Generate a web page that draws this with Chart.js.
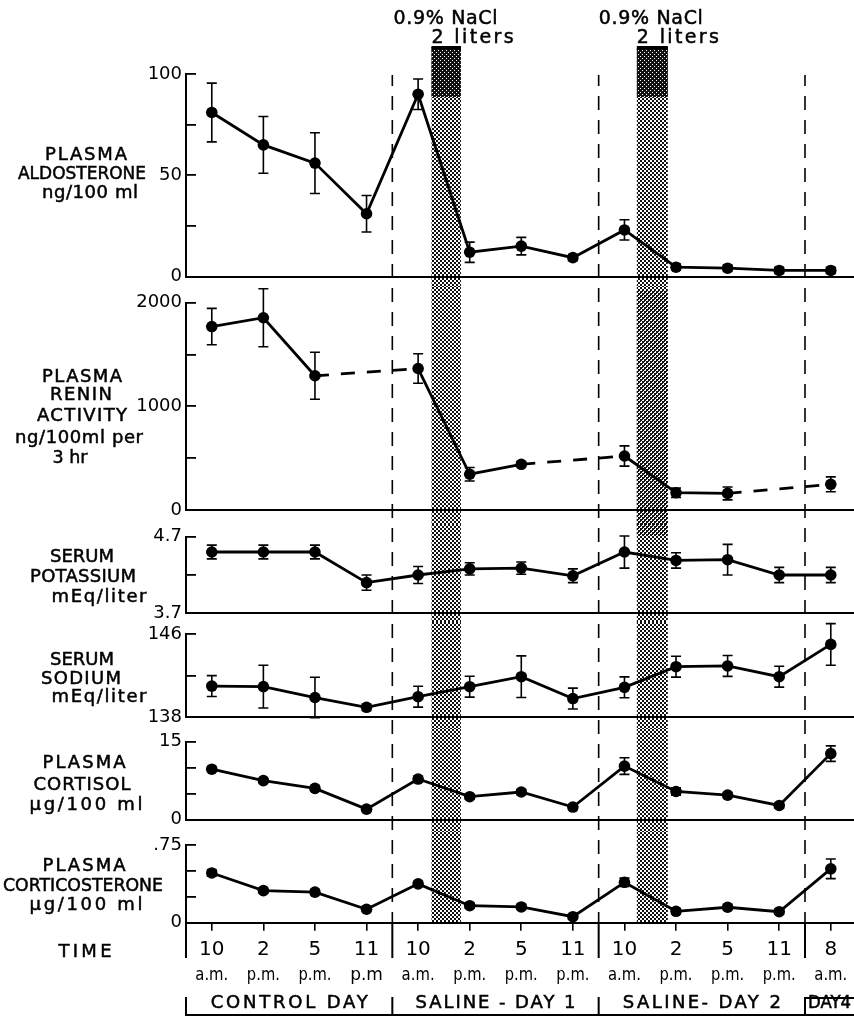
<!DOCTYPE html>
<html>
<head>
<meta charset="utf-8">
<script src="https://cdn.jsdelivr.net/npm/chart.js@4.4.0/dist/chart.umd.js"></script>
<style>
    html, body { margin: 0; padding: 0; background: #fff; }
    #wrap { position: relative; width: 854px; height: 1019px; overflow: hidden; }
    #wrap canvas { position: absolute; left: 0; }
</style>
</head>
<body>
<div id="wrap"></div>
<script>
// --- data ---
const timeHours = ['10', '2', '5', '11', '10', '2', '5', '11', '10', '2', '5', '11', '8'];
const timeAmPm = ['a.m.', 'p.m.', 'p.m.', 'p.m', 'a.m.', 'p.m.', 'p.m.', 'p.m.', 'a.m.', 'p.m.', 'p.m.', 'p.m.', 'a.m.'];
const dayNames = ['CONTROL DAY', 'SALINE - DAY 1', 'SALINE- DAY 2', 'DAY4'];
const dayBounds = [-0.5, 3.5, 7.5, 11.5, 12.45];
const infusionStart = [4.26, 8.24];
const infusionEnd = [4.83, 8.84];
const infusionText = ['0.9% NaCl', '2 liters'];

const aldosterone = [81, 65, 56, 31, 90, 12, 15, 9.3, 23, 4.6, 4.1, 3.0, 3.0];
const aldosteroneErr = [14.5, 14, 15, 9, 7.5, 5, 4.3, 1.5, 5, 1.5, 1.5, 1.5, 1.5];
const aldosteroneTicks = [0, 25, 50, 75, 100];
const aldosteroneTickText = ['0', '', '50', '', '100'];
const aldosteroneTitle = ['PLASMA', 'ALDOSTERONE', 'ng/100 ml'];

const renin = [1770, 1855, 1295, null, 1365, 345, 441, null, 521, 167, 160, null, 248];
const reninErr = [175, 280, 227, 0, 142, 65, 25, 0, 98, 45, 62, 0, 72];
const reninTicks = [0, 500, 1000, 1500, 2000];
const reninTickText = ['0', '', '1000', '', '2000'];
const reninTitle = ['PLASMA', 'RENIN', 'ACTIVITY', 'ng/100ml per', '3 hr'];

const potassium = [4.50, 4.50, 4.50, 4.10, 4.20, 4.28, 4.29, 4.19, 4.50, 4.39, 4.40, 4.20, 4.20];
const potassiumErr = [0.09, 0.09, 0.09, 0.10, 0.11, 0.08, 0.08, 0.09, 0.21, 0.10, 0.20, 0.10, 0.10];
const potassiumTicks = [3.7, 4.2, 4.7];
const potassiumTickText = ['3.7', '', '4.7'];
const potassiumTitle = ['SERUM', 'POTASSIUM', 'mEq/liter'];

const sodium = [141.0, 140.95, 139.9, 138.96, 139.98, 140.94, 141.9, 139.8, 140.88, 142.86, 142.93, 141.9, 145.0];
const sodiumErr = [1.0, 2.05, 1.95, 0.3, 1.0, 1.0, 2.0, 1.0, 1.0, 1.0, 1.0, 1.0, 2.0];
const sodiumTicks = [138, 142, 146];
const sodiumTickText = ['138', '', '146'];
const sodiumTitle = ['SERUM', 'SODIUM', 'mEq/liter'];

const cortisol = [9.7, 7.5, 6.0, 2.0, 7.8, 4.4, 5.3, 2.4, 10.3, 5.4, 4.7, 2.7, 12.7];
const cortisolErr = [0.5, 0.4, 0.4, 0.5, 0.6, 0.5, 0.5, 0.5, 1.6, 0.7, 0.5, 0.5, 1.5];
const cortisolTicks = [0, 5, 10, 15];
const cortisolTickText = ['0', '', '', '15'];
const cortisolTitle = ['PLASMA', 'CORTISOL', 'µg/100 ml'];

const corticosterone = [0.48, 0.31, 0.295, 0.13, 0.375, 0.164, 0.152, 0.058, 0.39, 0.11, 0.149, 0.106, 0.52];
const corticosteroneErr = [0.03, 0.025, 0.025, 0.025, 0.025, 0.025, 0.025, 0.025, 0.04, 0.025, 0.025, 0.025, 0.095];
const corticosteroneTicks = [0, 0.25, 0.5, 0.75];
const corticosteroneTickText = ['0', '', '', '.75'];
const corticosteroneTitle = ['PLASMA', 'CORTICOSTERONE', 'µg/100 ml'];

// --- layout (page pixels) ---
const FONT = '"DejaVu Sans", "Liberation Sans", sans-serif';
const panels = [
    { data: aldosterone, err: aldosteroneErr, ticks: aldosteroneTicks, tickText: aldosteroneTickText, title: aldosteroneTitle,
      top: 0, bottom: 287, areaTop: 74, areaBottom: 276.5,
      titlePos: [[86, 155, 82], [82, 174, 128], [90, 193, 96]] },
    { data: renin, err: reninErr, ticks: reninTicks, tickText: reninTickText, title: reninTitle,
      top: 287, bottom: 524, areaTop: 302.7, areaBottom: 510,
      titlePos: [[82, 377, 80], [81, 395, 62], [82, 416.7, 90], [79, 438, 128], [70, 458, 35]] },
    { data: potassium, err: potassiumErr, ticks: potassiumTicks, tickText: potassiumTickText, title: potassiumTitle,
      top: 524, bottom: 622, areaTop: 536.7, areaBottom: 613.3,
      titlePos: [[82, 557, 64], [83, 577, 106], [99, 597, 95]] },
    { data: sodium, err: sodiumErr, ticks: sodiumTicks, tickText: sodiumTickText, title: sodiumTitle,
      top: 622, bottom: 729, areaTop: 634, areaBottom: 717.3,
      titlePos: [[82, 660, 64], [81, 679, 80], [99, 697, 95]] },
    { data: cortisol, err: cortisolErr, ticks: cortisolTicks, tickText: cortisolTickText, title: cortisolTitle,
      top: 729, bottom: 832, areaTop: 741.7, areaBottom: 819.5,
      titlePos: [[84, 763, 83], [82, 785, 97], [86, 805, 113]] },
    { data: corticosterone, err: corticosteroneErr, ticks: corticosteroneTicks, tickText: corticosteroneTickText, title: corticosteroneTitle,
      top: 832, bottom: 1019, areaTop: 845, areaBottom: 922.7,
      titlePos: [[84, 866, 83], [83, 886, 160], [86, 905, 113]] },
];
const shadeLayers = [
    { band: 0, y0: 47, y1: 922.7, tone: 'light' },
    { band: 1, y0: 47, y1: 922.7, tone: 'light' },
    { band: 1, y0: 290, y1: 535, tone: 'medium' },
    { band: 0, y0: 47, y1: 97, tone: 'dark' },
    { band: 1, y0: 47, y1: 97, tone: 'dark' },
];
const dayLabelWidths = [157, 160, 158, 43];

function tile(bg, fg, cells) {
    const c = document.createElement('canvas');
    c.width = 4; c.height = 4;
    const g = c.getContext('2d');
    g.fillStyle = bg; g.fillRect(0, 0, 4, 4);
    g.fillStyle = fg;
    cells.forEach(([x, y, w, h]) => g.fillRect(x, y, w, h));
    return c;
}
const tiles = {
    light: tile('#fff', '#111', [[0, 0, 2, 2], [2, 2, 2, 2]]),
    medium: tile('#fff', '#111', [[0, 0, 2, 2], [2, 2, 2, 2], [2, 0, 1, 1], [0, 2, 1, 1]]),
    dark: tile('#111', '#fff', [[0, 0, 1, 1], [2, 2, 1, 1]]),
};

// draws text stretched (letter spacing) or squeezed to span w px, centred on cx
function fitText(ctx, text, cx, cy, w) {
    ctx.textAlign = 'left';
    const canSpace = 'letterSpacing' in ctx;
    if (canSpace) ctx.letterSpacing = '0px';
    const w0 = ctx.measureText(text).width;
    if (w0 >= w || text.length < 2 || !canSpace) {
        const x = cx - Math.min(w0, w) / 2;
        ctx.fillText(text, x, cy, w);
        ctx.strokeText(text, x, cy, w);
        return;
    }
    ctx.letterSpacing = ((w - w0) / (text.length - 1)) + 'px';
    ctx.fillText(text, cx - w / 2, cy);
    ctx.strokeText(text, cx - w / 2, cy);
    ctx.letterSpacing = '0px';
}

function decor(p, k) {
    const first = k === 0, last = k === panels.length - 1;
    return {
        id: 'decor' + k,
        beforeDraw(chart) {
            const ctx = chart.ctx, xs = chart.scales.x, off = p.top, H = chart.height;
            ctx.save();
            // infusion bands
            shadeLayers.forEach((l) => {
                const x0 = xs.getPixelForValue(infusionStart[l.band]);
                const x1 = xs.getPixelForValue(infusionEnd[l.band]);
                const y0 = Math.max(l.y0 - off, 0), y1 = Math.min(l.y1 - off, H);
                if (y1 <= y0) return;
                ctx.fillStyle = ctx.createPattern(tiles[l.tone], 'repeat');
                ctx.fillRect(x0, y0, x1 - x0, y1 - y0);
            });
            if (first) {
                ctx.fillStyle = '#000';
                infusionStart.forEach((s, i) => {
                    const x0 = xs.getPixelForValue(s), x1 = xs.getPixelForValue(infusionEnd[i]);
                    ctx.fillRect(x0, 46, x1 - x0, 4);
                });
            }
            // dashed day separators
            ctx.strokeStyle = '#000';
            ctx.lineWidth = 1.6;
            ctx.setLineDash([14, 10]);
            dayBounds.slice(1, 4).forEach((b) => {
                const x = xs.getPixelForValue(b);
                const y0 = Math.max(75 - off, 0), y1 = Math.min(922.7 - off, H);
                ctx.lineDashOffset = off + y0;
                ctx.beginPath(); ctx.moveTo(x, y0); ctx.lineTo(x, y1); ctx.stroke();
            });
            ctx.restore();
        },
        beforeDatasetsDraw(chart) {
            const ctx = chart.ctx, xs = chart.scales.x, ys = chart.scales.y;
            ctx.save();
            ctx.strokeStyle = '#000';
            ctx.lineWidth = 1.6;
            p.data.forEach((v, i) => {
                if (v === null || !p.err[i]) return;
                const x = xs.getPixelForValue(i);
                const yt = ys.getPixelForValue(v + p.err[i]), yb = ys.getPixelForValue(v - p.err[i]);
                ctx.beginPath();
                ctx.moveTo(x, yt); ctx.lineTo(x, yb);
                ctx.moveTo(x - 5, yt); ctx.lineTo(x + 5, yt);
                ctx.moveTo(x - 5, yb); ctx.lineTo(x + 5, yb);
                ctx.stroke();
            });
            ctx.restore();
        },
        afterDraw(chart) {
            const ctx = chart.ctx, xs = chart.scales.x, off = p.top;
            ctx.save();
            ctx.fillStyle = '#000';
            ctx.strokeStyle = '#000';
            ctx.lineWidth = 0.5;
            ctx.textBaseline = 'middle';
            ctx.font = '18px ' + FONT;
            p.title.forEach((t, i) => {
                const [cx, cy, w] = p.titlePos[i];
                fitText(ctx, t, cx, cy - off, w);
            });
            if (first) {
                ctx.font = '19px ' + FONT;
                infusionStart.forEach((s) => {
                    const x0 = xs.getPixelForValue(s);
                    fitText(ctx, infusionText[0], x0 + 14, 19, 104);
                    fitText(ctx, infusionText[1], x0 + 41, 38, 82);
                });
            }
            if (last) {
                fitText(ctx, 'TIME', 85, 952 - off, 53);
                ctx.font = '17px ' + FONT;
                ctx.textAlign = 'center';
                timeAmPm.forEach((t, i) => ctx.fillText(t, xs.getPixelForValue(i), 976 - off, 33));
                ctx.font = '18px ' + FONT;
                dayNames.forEach((t, i) => {
                    const cx = xs.getPixelForValue((dayBounds[i] + dayBounds[i + 1]) / 2);
                    fitText(ctx, t, cx, 1003 - off, dayLabelWidths[i]);
                });
                ctx.lineWidth = 2;
                ctx.beginPath();
                dayBounds.slice(0, 4).forEach((b) => {
                    const x = xs.getPixelForValue(b);
                    ctx.moveTo(x, 922.7 - off); ctx.lineTo(x, 958 - off);
                    ctx.moveTo(x, 997 - off); ctx.lineTo(x, 1016 - off);
                });
                ctx.moveTo(xs.getPixelForValue(dayBounds[0]), 1015 - off);
                ctx.lineTo(854, 1015 - off);
                ctx.moveTo(xs.getPixelForValue(dayBounds[3]), 998 - off);
                ctx.lineTo(854, 998 - off);
                ctx.stroke();
            }
            ctx.restore();
        },
    };
}

const wrap = document.getElementById('wrap');
panels.forEach((p, k) => {
    const last = k === panels.length - 1;
    const cv = document.createElement('canvas');
    cv.width = 854; cv.height = p.bottom - p.top;
    cv.style.top = p.top + 'px';
    wrap.appendChild(cv);
    new Chart(cv, {
        type: 'line',
        data: {
            datasets: [{
                data: timeHours.map((_, i) => ({ x: i, y: p.data[i] })),
                borderColor: '#000', borderWidth: 2.8,
                pointRadius: 5.8, pointBorderWidth: 0, pointBackgroundColor: '#000',
                spanGaps: true, clip: false, tension: 0,
                segment: { borderDash: (c) => (c.p0.skip || c.p1.skip) ? [14, 12] : undefined },
            }],
        },
        options: {
            responsive: false, maintainAspectRatio: false, animation: false, devicePixelRatio: 1,
            layout: { autoPadding: false, padding: { top: p.areaTop - p.top, bottom: last ? 0 : p.bottom - p.areaBottom, left: 0, right: 0 } },
            plugins: { legend: { display: false }, tooltip: { enabled: false } },
            scales: {
                x: {
                    type: 'linear', min: dayBounds[0], max: dayBounds[4],
                    afterBuildTicks: (s) => { s.ticks = timeHours.map((_, i) => ({ value: i })); },
                    afterFit: (s) => { s.height = last ? p.bottom - p.areaBottom : 0; s.paddingLeft = 0; s.paddingRight = 0; },
                    border: { display: true, color: '#000', width: 2 },
                    grid: last ? { display: true, drawOnChartArea: false, tickLength: 8, color: '#000', lineWidth: 1.6 } : { display: false },
                    ticks: last ? { display: true, autoSkip: false, maxRotation: 0, padding: 7, color: '#000',
                                    font: { family: FONT, size: 20 }, callback: (v) => timeHours[v] } : { display: false },
                },
                y: {
                    min: p.ticks[0], max: p.ticks[p.ticks.length - 1],
                    afterBuildTicks: (s) => { s.ticks = p.ticks.map((v) => ({ value: v })); },
                    afterFit: (s) => { s.width = 186; s.paddingTop = 0; s.paddingBottom = 0; },
                    border: { display: true, color: '#000', width: 2 },
                    grid: { display: true, drawOnChartArea: false, drawTicks: true, tickLength: -10, color: '#000', lineWidth: 1.8 },
                    ticks: { autoSkip: false, padding: 14, color: '#000', font: { family: FONT, size: 18 },
                             callback: (v) => p.tickText[p.ticks.indexOf(v)] },
                },
            },
        },
        plugins: [decor(p, k)],
    });
});
</script>
</body>
</html>
